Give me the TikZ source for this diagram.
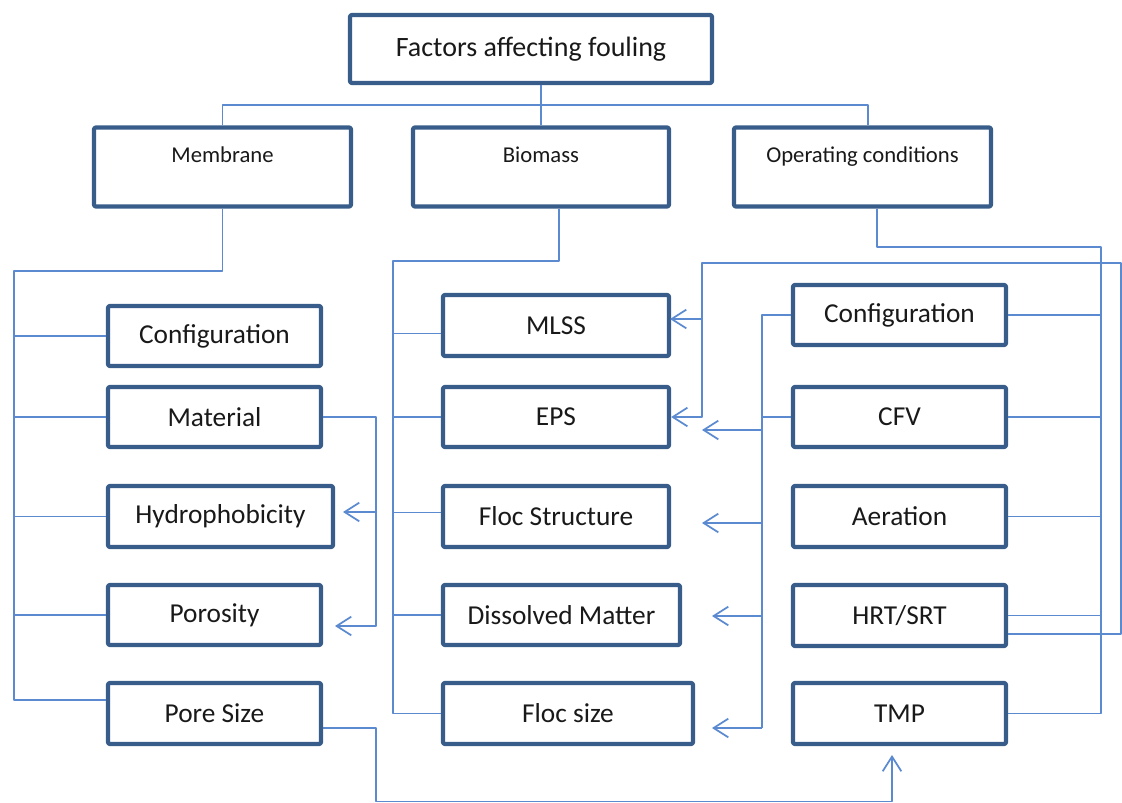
\documentclass[tikz,border=0pt]{standalone}
\usepackage{fontspec}
\setmainfont{Carlito}
\usetikzlibrary{arrows.meta}
\definecolor{boxblue}{HTML}{385D8A}
\definecolor{linkblue}{HTML}{5B8AD0}
\begin{document}
\begin{tikzpicture}[x=0.75pt, y=-0.75pt, line join=round,
  box/.style={draw=boxblue, line width=3.2pt, rounded corners=1.5pt, fill=white, inner sep=0pt,
    font=\fontsize{20.5}{24}\selectfont, text=black!90},
  head/.style={box, font=\fontsize{17}{20}\selectfont, text height=26.5pt, text depth=32.75pt},
  sz/.style 2 args={minimum width=#1*0.75pt, minimum height=#2*0.75pt},
  link/.style={draw=linkblue, line width=1.3pt},
  >={Straight Barb[length=11pt,width=14pt]}]
\useasboundingbox (0,0) rectangle (1122,803);
\node[box, sz={362}{68}, font=\fontsize{21}{25}\selectfont] (top) at (531,49) {Factors affecting fouling};
\node[head, minimum width=257*0.75pt] (mem) at (222.5,167) {Membrane};
\node[head, minimum width=256*0.75pt] (bio) at (541,167) {Biomass};
\node[head, minimum width=257*0.75pt] (ops) at (862.5,167) {Operating conditions};
\node[box, sz={213}{60}] (conf1) at (214.5,336) {Configuration};
\node[box, sz={213}{60}] (mat) at (214.5,417) {Material};
\node[box, sz={225}{61}] (hyd) at (220.5,516.5) {Hydrophobicity};
\node[box, sz={213}{60}] (por) at (214.5,615) {Porosity};
\node[box, sz={213}{61}] (pore) at (214.5,713.5) {Pore Size};
\node[box, sz={226}{61}] (mlss) at (556,325.5) {MLSS};
\node[box, sz={226}{60}] (eps) at (556,417) {EPS};
\node[box, sz={226}{61}] (flst) at (556,516.5) {Floc Structure};
\node[box, sz={237}{60}] (diss) at (561.5,615) {Dissolved Matter};
\node[box, sz={250}{61}] (flsize) at (568,713.5) {Floc size};
\node[box, sz={213}{60}] (oconf) at (899.5,315) {Configuration};
\node[box, sz={213}{60}] (cfv) at (899.5,417) {CFV};
\node[box, sz={213}{61}] (aer) at (899.5,516.5) {Aeration};
\node[box, sz={213}{61}] (hrt) at (899.5,615.5) {HRT/SRT};
\node[box, sz={213}{61}] (tmp) at (899.5,713.5) {TMP};
\coordinate (bus) at (0,105);
\path ([xshift=4pt]ops.north) coordinate (opsin);
\draw[link] (mem.north) |- (bus -| opsin) -- (opsin);
\draw[link] (top.south -| bio.north) -- (bio.north);
\coordinate (mrail) at (14,271);
\draw[link] (mem.south) |- (mrail) |- ([yshift=10pt]pore.west);
\foreach \n in {conf1,mat,hyd,por}
  \draw[link] (mrail |- \n.west) -- (\n.west);
\coordinate (mdrop) at (376,626);
\coordinate (hydtip) at (343,512);
\coordinate (portip) at (335,626);
\draw[link,->] (mat.east) -| (mdrop) -- (portip);
\draw[link,->] (mdrop |- hydtip) -- (hydtip);
\coordinate (bot) at (376,801.5);
\coordinate (tmptip) at (892,755);
\draw[link,->] ([yshift=-11pt]pore.east) -| (bot) -| (tmptip);
\coordinate (brail) at (393,261);
\draw[link] ([xshift=13.5pt]bio.south) |- (brail) |- (flsize.west);
\foreach \n/\s in {mlss/-6pt,eps/0pt,flst/3pt,diss/0pt}{
  \path ([yshift=\s]\n.west) coordinate (w);
  \draw[link] (brail |- w) -- (w);
}
\coordinate (orail) at (1101,247);
\draw[link] ([xshift=11pt]ops.south) |- (orail) |- (tmp.east);
\foreach \n in {oconf,cfv,aer,hrt}
  \draw[link] (\n.east) -- (orail |- \n.east);
\coordinate (loopR) at (1121,263);
\coordinate (loopL) at (702,263);
\coordinate (mlsstip) at (670,319);
\draw[link,->] ([yshift=-14pt]hrt.east) -| (loopR) -- (loopL) |- (eps.east);
\draw[link,->] (loopL |- mlsstip) -- (mlsstip);
\coordinate (lrail) at (762,728);
\coordinate (t1) at (702,430);
\coordinate (t2) at (702,523);
\coordinate (t3) at (712,616);
\coordinate (t4) at (712,728);
\draw[link] (oconf.west) -| (lrail);
\draw[link] (lrail |- cfv.west) -- (cfv.west);
\foreach \t in {t1,t2,t3,t4}
  \draw[link,->] (lrail |- \t) -- (\t);
\end{tikzpicture}
\end{document}
